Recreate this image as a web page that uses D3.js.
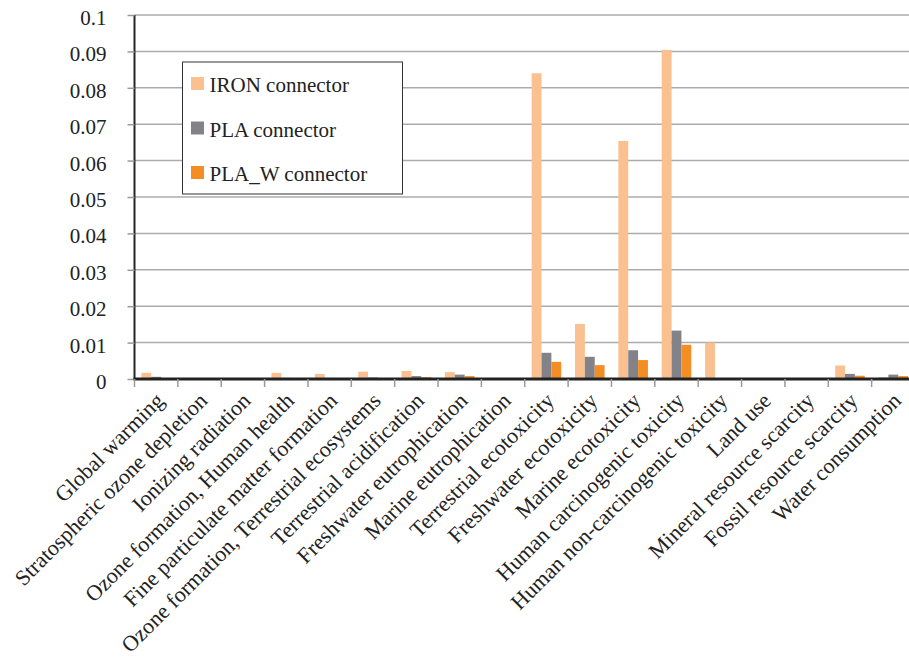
<!DOCTYPE html>
<html>
<head>
<meta charset="utf-8">
<script src="https://cdn.jsdelivr.net/npm/d3@7/dist/d3.min.js"></script>
</head>
<body style="margin:0;background:#fff">
<svg id="chart" width="909" height="659" style="display:block"></svg>
<script>
// Impact categories (x axis)
const categories = [
  "Global warming",
  "Stratospheric ozone depletion",
  "Ionizing radiation",
  "Ozone formation, Human health",
  "Fine particulate matter formation",
  "Ozone formation, Terrestrial ecosystems",
  "Terrestrial acidification",
  "Freshwater eutrophication",
  "Marine eutrophication",
  "Terrestrial ecotoxicity",
  "Freshwater ecotoxicity",
  "Marine ecotoxicity",
  "Human carcinogenic toxicity",
  "Human non-carcinogenic toxicity",
  "Land use",
  "Mineral resource scarcity",
  "Fossil resource scarcity",
  "Water consumption"
];

const seriesNames = ["IRON connector", "PLA connector", "PLA_W connector"];

// Values per impact category, one array per connector
const ironValues = [0.0017, 0.0001, 0.0003, 0.0017, 0.0014, 0.0020, 0.0022, 0.0019, 0.0001,
                    0.0840, 0.0151, 0.0654, 0.0904, 0.0100, 0.0001, 0.0001, 0.0037, 0.0005];
const plaValues  = [0.0006, 0.0000, 0.0002, 0.0003, 0.0003, 0.0004, 0.0008, 0.0012, 0.0000,
                    0.0072, 0.0061, 0.0079, 0.0133, 0.0001, 0.0000, 0.0000, 0.0014, 0.0012];
const plawValues = [0.0002, 0.0000, 0.0001, 0.0002, 0.0002, 0.0002, 0.0005, 0.0008, 0.0000,
                    0.0047, 0.0038, 0.0052, 0.0094, 0.0001, 0.0000, 0.0000, 0.0009, 0.0008];

const yTicks = [0, 0.01, 0.02, 0.03, 0.04, 0.05, 0.06, 0.07, 0.08, 0.09, 0.1];

const colors = ["#FAC08F", "#838288", "#F48D23"];
const seriesValues = [ironValues, plaValues, plawValues];

const FONT = "Liberation Serif";
const svg = d3.select("#chart");
const plotLeft = 134.5, plotRight = 915, plotTop = 15, plotBottom = 379;

const x0 = d3.scaleBand().domain(categories).range([plotLeft, plotRight]).padding(0);
const x1 = d3.scaleBand().domain(seriesNames).range([0, x0.bandwidth()])
  .paddingInner(0).paddingOuter(0.7);
const y = d3.scaleLinear().domain([0, 0.1]).range([plotBottom, plotTop]);

// Horizontal gridlines
svg.append("g")
  .selectAll("line")
  .data(yTicks.slice(1))
  .join("line")
  .attr("x1", plotLeft).attr("x2", 909)
  .attr("y1", d => y(d)).attr("y2", d => y(d))
  .attr("stroke", "#ababab").attr("stroke-width", 1.5);

// Bars
const groups = svg.append("g")
  .selectAll("g")
  .data(categories)
  .join("g")
  .attr("transform", d => `translate(${x0(d)},0)`);

groups.selectAll("rect")
  .data((c, i) => seriesNames.map((s, k) => ({ s, k, v: seriesValues[k][i] })))
  .join("rect")
  .attr("x", d => x1(d.s))
  .attr("width", x1.bandwidth())
  .attr("y", d => y(d.v))
  .attr("height", d => y(0) - y(d.v))
  .attr("fill", d => colors[d.k]);

// Y axis
const fmt = d => d === 0 ? "0" : String(+d.toFixed(2));
const yAxis = svg.append("g")
  .attr("transform", `translate(${plotLeft},0)`)
  .call(d3.axisLeft(y).tickValues(yTicks).tickFormat(fmt).tickSize(7).tickPadding(21));
yAxis.select(".domain").attr("stroke", "#262626").attr("stroke-width", 2)
  .attr("d", `M0,${plotTop}V${plotBottom}`);
yAxis.selectAll(".tick line").attr("stroke", "#9a9a9a").attr("stroke-width", 1.5);
yAxis.selectAll(".tick text")
  .attr("font-family", FONT).attr("font-size", 21)
  .attr("fill", "#222").attr("dy", "0.45em");

// X axis: ticks at category boundaries
const xAxis = svg.append("g").attr("transform", `translate(0,${plotBottom})`);
xAxis.append("line")
  .attr("x1", plotLeft - 1).attr("x2", 909)
  .attr("stroke", "#222").attr("stroke-width", 3);
xAxis.selectAll("line.tick")
  .data(categories)
  .join("line")
  .attr("class", "tick")
  .attr("x1", d => x0(d)).attr("x2", d => x0(d))
  .attr("y1", 0).attr("y2", 8)
  .attr("stroke", "#9a9a9a").attr("stroke-width", 1.5);

xAxis.selectAll("text")
  .data(categories)
  .join("text")
  .attr("text-anchor", "end")
  .attr("transform", d => `translate(${x0(d) + x0.bandwidth() / 2 + 9},${23}) rotate(-45)`)
  .attr("font-family", FONT).attr("font-size", 22)
  .attr("fill", "#222")
  .text(d => d);

// Legend
const legend = svg.append("g").attr("transform", "translate(182.5,62)");
legend.append("rect")
  .attr("width", 220).attr("height", 132)
  .attr("fill", "#fff").attr("stroke", "#333").attr("stroke-width", 1);
const items = legend.selectAll("g.item")
  .data(seriesNames)
  .join("g")
  .attr("class", "item")
  .attr("transform", (d, i) => `translate(0,${i * 44.5})`);
items.append("rect")
  .attr("x", 8.5).attr("y", 15)
  .attr("width", 13).attr("height", 13)
  .attr("fill", (d, i) => colors[i]);
items.append("text")
  .attr("x", 27).attr("y", 30)
  .attr("font-family", FONT).attr("font-size", 21)
  .attr("fill", "#222")
  .text(d => d);
</script>
</body>
</html>
